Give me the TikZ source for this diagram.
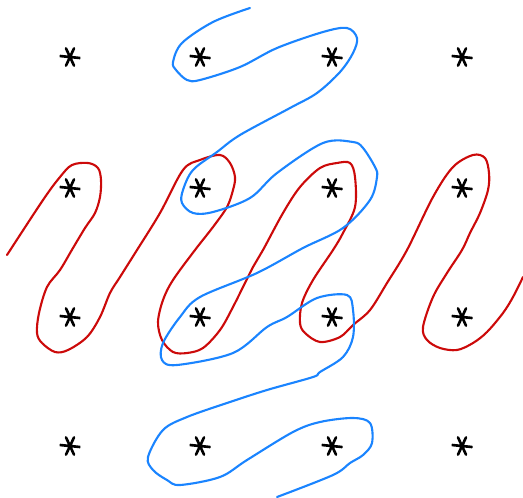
\documentclass[tikz,border=0pt]{standalone}
\usetikzlibrary{positioning}
\definecolor{InkRed}{HTML}{CC0A0A}
\definecolor{InkBlue}{HTML}{1A84FF}
\tikzset{
  starmark/.style={minimum size=0.42cm,inner sep=0pt,
    path picture={\draw[line width=1.5pt,line cap=round]
      (path picture bounding box.center) +(-0.2cm,0.02cm) -- +(0.2cm,-0.02cm)
      +(65:0.19cm) -- +(245:0.19cm) +(115:0.19cm) -- +(295:0.19cm);}},
  pen/.style={line width=1.2pt,line cap=round,line join=round},
}
\begin{document}
\begin{tikzpicture}[x=0.02cm,y=-0.02cm]
  \useasboundingbox (0,0) rectangle (523,497);
  % grid of points
  \foreach \c/\x in {1/70,2/200,3/332,4/462} {
    \foreach \r/\y in {1/57,2/188,3/317,4/446} {
      \node[starmark] (s\r\c) at (\x,\y) {};
    }
  }
  % red zigzag
  \draw[pen,InkRed] plot[smooth,tension=0.55] coordinates {
    (7,255) (43,200) (60,177) (72,165) (88,163) (98,168) (101,180) (100,197)
    (95,213) (85,228) (73,248) (60,270) (47,287) (39,313) (37,333) (42,343)
    (55,352) (68,350) (87,337) (100,317) (110,293) (120,277) (137,250)
    (160,213) (183,170) (200,160) (220,155) (230,163) (235,177) (233,190)
    (227,207) (213,227) (195,250) (173,280) (163,300) (158,322) (162,340)
    (173,352) (187,353) (203,348) (220,330) (233,307) (253,267) (263,250)
    (283,213) (300,187) (320,168) (337,163) (350,163) (355,177) (355,207)
    (343,233) (333,250) (313,280) (302,303) (300,323) (305,333) (320,342)
    (340,337) (353,325) (370,310) (387,283) (407,250) (433,197) (453,167)
    (473,155) (485,158) (489,173) (488,190) (480,213) (470,233) (462,250)
    (447,273) (433,297) (423,327) (427,340) (440,348) (457,350) (473,343)
    (487,332) (503,313) (513,297) (523,277)};
  % blue zigzag
  \draw[pen,InkBlue] plot[smooth,tension=0.55] coordinates {
    (250,8) (213,22) (182,43) (173,62) (176,70) (187,80) (200,80) (240,67)
    (277,48) (323,32) (347,28) (357,38) (353,53) (340,72) (317,93) (290,108)
    (240,135) (217,152) (193,170) (183,190) (182,203) (193,213) (213,212)
    (250,198) (277,173) (323,143) (353,142) (363,148) (375,167) (377,177)
    (370,200) (343,228) (303,248) (257,273) (200,297) (180,317) (163,343)
    (162,360) (177,365) (233,353) (267,327) (287,317) (317,298) (347,295)
    (353,310) (353,337) (343,357) (320,372) (313,377) (267,390) (227,403)
    (187,417) (163,430) (148,457) (153,470) (167,480) (180,485) (220,477)
    (247,460) (293,432) (320,422) (353,418) (370,423) (372,443) (363,455)
    (350,463) (333,475) (277,497)};
\end{tikzpicture}
\end{document}
